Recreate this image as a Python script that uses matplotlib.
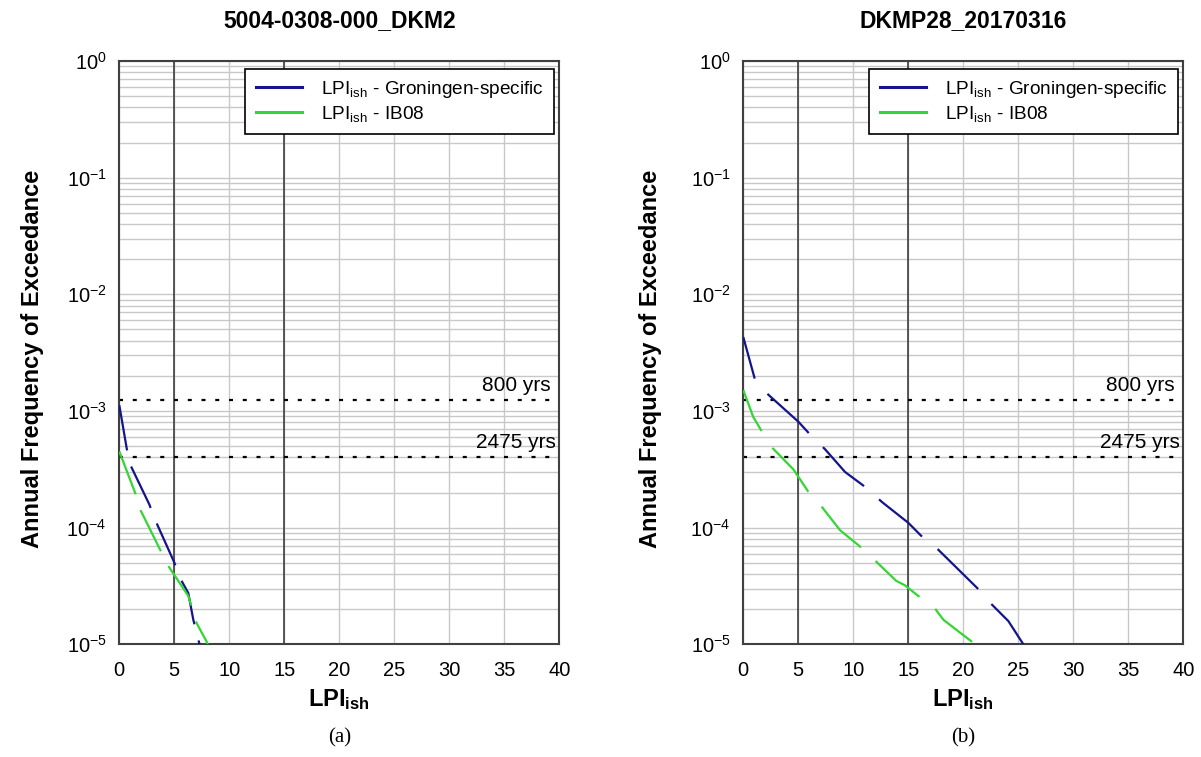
import matplotlib
matplotlib.use("Agg")
import matplotlib.pyplot as plt
from matplotlib.ticker import LogLocator, FixedLocator, NullFormatter, LogFormatterMathtext

plt.rcParams['font.family'] = ['Liberation Sans', 'DejaVu Sans']
plt.rcParams['mathtext.fontset'] = 'custom'
plt.rcParams['mathtext.rm'] = 'Liberation Sans'
plt.rcParams['mathtext.it'] = 'Liberation Sans'
plt.rcParams['mathtext.bf'] = 'Liberation Sans:bold'
plt.rcParams['lines.scale_dashes'] = False
plt.rcParams['axes.unicode_minus'] = False

# ---- data ----
titles = ["5004-0308-000_DKM2", "DKMP28_20170316"]
captions = ["(a)", "(b)"]
series_names = ["Groningen-specific", "IB08"]

a_gron_x = [0.0, 0.67, 0.97, 2.73, 3.25, 4.97, 5.52, 6.27, 6.73, 7.27, 7.5]
a_gron_y = [1.12e-3, 4.8e-4, 3.5e-4, 1.58e-4, 1.17e-4, 5.1e-5, 3.7e-5, 2.75e-5, 1.62e-5, 1.02e-5, 8.5e-6]
a_ib08_x = [0.0, 1.43, 1.82, 3.70, 4.45, 6.27, 7.04, 7.95, 8.2]
a_ib08_y = [4.5e-4, 2.0e-4, 1.48e-4, 6.5e-5, 4.7e-5, 2.6e-5, 1.51e-5, 1.05e-5, 9.0e-6]

b_gron_x = [0.0, 1.06, 2.27, 5.0, 6.06, 7.43, 9.25, 11.2, 12.6, 15.0, 16.4, 17.7,
            21.4, 22.6, 24.1, 25.4, 25.8]
b_gron_y = [4.3e-3, 1.86e-3, 1.38e-3, 8.1e-4, 6.3e-4, 4.7e-4, 3.0e-4, 2.19e-4, 1.66e-4,
            1.10e-4, 8.1e-5, 6.5e-5, 2.95e-5, 2.19e-5, 1.58e-5, 1.02e-5, 9.0e-6]
b_ib08_x = [0.0, 0.9, 1.76, 2.67, 4.55, 5.9, 7.13, 8.8, 10.6, 12.0, 13.9, 14.7, 15.9,
            17.3, 18.2, 19.7, 20.8]
b_ib08_y = [1.51e-3, 8.9e-4, 6.5e-4, 4.8e-4, 3.16e-4, 2.04e-4, 1.51e-4, 9.5e-5, 6.9e-5,
            5.2e-5, 3.5e-5, 3.2e-5, 2.6e-5, 2.1e-5, 1.62e-5, 1.26e-5, 1.05e-5]

return_periods = [800, 2475]
marked_x = [5, 15]

panels = [
    (a_gron_x, a_gron_y, a_ib08_x, a_ib08_y),
    (b_gron_x, b_gron_y, b_ib08_x, b_ib08_y),
]

# ---- styling ----
W, H = 1201, 757
fig = plt.figure(figsize=(W / 100, H / 100), dpi=100)
blue = "#14148c"
green = "#33d633"
dash_styles = [
    [(0, (33, 12)), (0, (33, 12))],
    [(10, (41, 14.4)), (8.6, (41, 14.4))],
]

ax_lefts = [119.3, 743.3]
ylabel_x = [33, 650]
ax_top, ax_bot, ax_w = 61.0, 644.3, 440.0

for i, (gx, gy, ix, iy) in enumerate(panels):
    L = ax_lefts[i]
    ax = fig.add_axes([L / W, 1 - ax_bot / H, ax_w / W, (ax_bot - ax_top) / H])
    ax.set_yscale('log')
    ax.set_xlim(0, 40)
    ax.set_ylim(1e-5, 1)
    ax.xaxis.set_major_locator(FixedLocator(list(range(0, 41, 5))))
    ax.yaxis.set_major_locator(LogLocator(base=10, numticks=10))
    ax.yaxis.set_minor_locator(LogLocator(base=10, subs=range(2, 10), numticks=20))
    ax.yaxis.set_minor_formatter(NullFormatter())
    ax.yaxis.set_major_formatter(LogFormatterMathtext())
    ax.grid(True, which='both', axis='y', color='#c8c8c8', lw=1.0)
    ax.grid(True, which='major', axis='x', color='#c8c8c8', lw=1.0)
    ax.set_axisbelow(True)
    ax.tick_params(which='both', length=0, labelsize=14.5, pad=9)
    ax.tick_params(axis='x', pad=12)
    for s in ax.spines.values():
        s.set_color('#404040')
        s.set_linewidth(1.5)
    for xv in marked_x:
        ax.axvline(xv, color='#303030', lw=1.1, zorder=1.5)
    for rp in return_periods:
        ax.axhline(1.0 / rp, color='black', lw=1.6, linestyle=(0, (2.9, 7.0)), zorder=2)
        ax.text(36.1, 1.0 / rp * 1.1, f"{rp} yrs", ha='center', va='bottom', fontsize=15, zorder=3)
    ax.plot(gx, gy, color=blue, lw=1.6, linestyle=dash_styles[i][0], zorder=4)
    ax.plot(ix, iy, color=green, lw=1.6, linestyle=dash_styles[i][1], zorder=4)
    # legend proxies
    h1, = ax.plot([], [], color=blue, lw=2.2)
    h2, = ax.plot([], [], color=green, lw=2.2)
    leg = ax.legend([h1, h2], [r"LPI$_{\mathrm{ish}}$ - " + series_names[0],
                               r"LPI$_{\mathrm{ish}}$ - " + series_names[1]],
                    loc='upper right', bbox_to_anchor=(0.988, 0.987), fontsize=13.7,
                    fancybox=False, framealpha=1, edgecolor='black', handlelength=2.4,
                    borderpad=0.55, labelspacing=0.2, handletextpad=1.0, borderaxespad=0)
    leg.get_frame().set_linewidth(1.2)

    cx = L + ax_w / 2
    fig.text(cx / W, 1 - 21 / H, titles[i], ha='center', va='center', fontsize=16.5, fontweight='bold')
    fig.text(ylabel_x[i] / W, 1 - 359 / H, "Annual Frequency of Exceedance", rotation=90,
             ha='center', va='center', fontsize=17, fontweight='bold')
    fig.text(cx / W, 1 - 700 / H, r"$\mathbf{LPI}_{\mathbf{ish}}$", ha='center', va='center', fontsize=17)
    fig.text(cx / W, 1 - 738 / H, captions[i], ha='center', va='center', fontsize=15,
             family='Liberation Serif')

fig.savefig("out.png", dpi=100)
